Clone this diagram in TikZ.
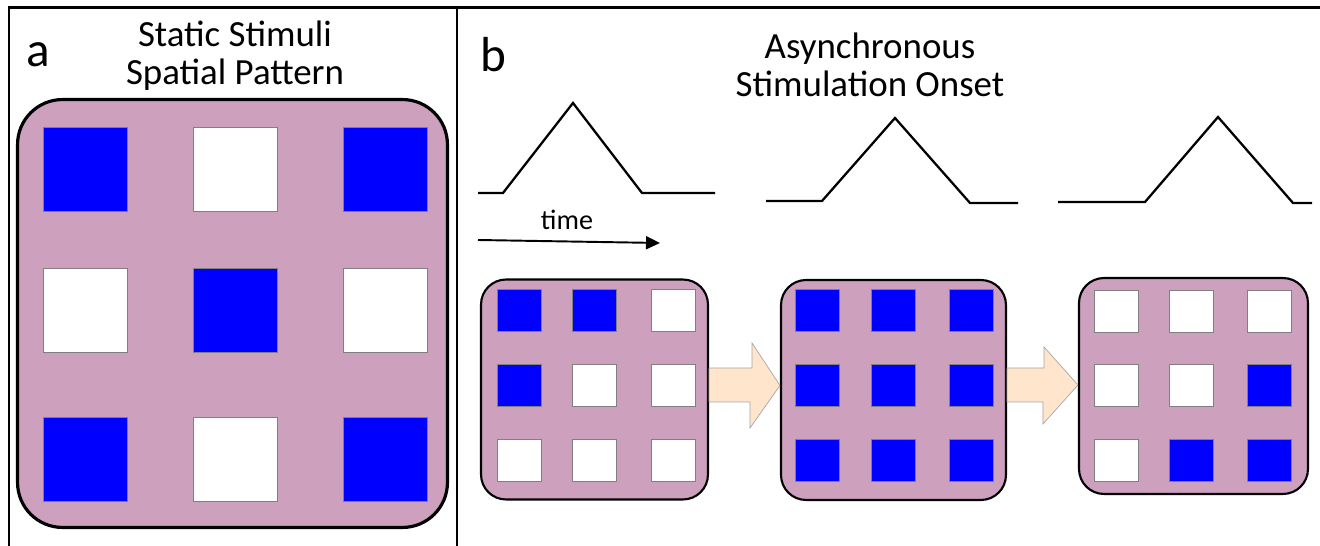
\documentclass[tikz,border=0pt]{standalone}
\usepackage{fontspec}
\setmainfont{Carlito}
\usetikzlibrary{arrows.meta,calc}
\definecolor{panelpink}{RGB}{205,160,190}
\definecolor{stimblue}{RGB}{0,0,255}
\definecolor{peach}{RGB}{255,229,204}
\begin{document}
\begin{tikzpicture}[x=0.02cm,y=-0.02cm,
  bigpanel/.style={draw,line width=1.8pt,fill=panelpink,rounded corners=0.9cm,minimum width=8.6cm,minimum height=8.56cm,inner sep=0pt},
  smallpanel/.style={draw,line width=1.2pt,fill=panelpink,rounded corners=0.5cm,minimum width=4.5cm,minimum height=4.4cm,inner sep=0pt},
  bigsq/.style={draw=gray,line width=0.5pt,minimum size=1.68cm,inner sep=0pt},
  smallsq/.style={draw=gray,line width=0.5pt,minimum width=0.88cm,minimum height=0.84cm,inner sep=0pt},
  on/.style={fill=stimblue},
  off/.style={fill=white},
  blockarrow/.style={draw=gray!70,line width=0.4pt,fill=peach,line join=miter},
  title/.style={align=center,font=\fontsize{21}{21.5}\selectfont},
  letter/.style={font=\fontsize{28}{30}\selectfont},
  wave/.style={line width=1.3pt}]
\useasboundingbox (0,0) rectangle (1320,546);
\draw[line width=1.7pt] (9,546) -- (9,8) -- (1320,8);
\draw[line width=1.7pt] (457,8) -- (457,546);
\node[letter] (la) at (38,55) {a};
\node[title] (ta) at (235,56) {Static Stimuli\\Spatial Pattern};
\node[bigpanel] (pa) at (232.5,313.5) {};
\node[bigsq,on] (pa11) at (85,169) {};
\node[bigsq,off] (pa12) at (235,169) {};
\node[bigsq,on] (pa13) at (385,169) {};
\node[bigsq,off] (pa21) at (85,310) {};
\node[bigsq,on] (pa22) at (235,310) {};
\node[bigsq,off] (pa23) at (385,310) {};
\node[bigsq,on] (pa31) at (85,459) {};
\node[bigsq,off] (pa32) at (235,459) {};
\node[bigsq,on] (pa33) at (385,459) {};
\node[letter] (lb) at (493,55) {b};
\node[title] (tb) at (870,65) {Asynchronous\\Stimulation Onset};
\draw[wave] (478,193) -- (503,193) -- (573,103) -- (642,193) -- (715,193);
\draw[wave] (766,201) -- (822,201) -- (895,118) -- (970,203) -- (1018,203);
\draw[wave] (1058,202) -- (1145,202) -- (1218,117) -- (1293,203) -- (1312,203);
\node[font=\fontsize{16}{18}\selectfont] (tm) at (567,220) {time};
\coordinate (t0) at (478,240);
\coordinate (t1) at (660,243);
\draw[line width=1.1pt,-{Triangle[length=0.28cm,width=0.26cm]}] (t0) -- (t1);
\node[smallpanel,minimum width=4.54cm] (pb1) at (594.5,389.5) {};
\node[smallpanel] (pb2) at (893.5,390) {};
\node[smallpanel,minimum width=4.58cm,minimum height=4.32cm] (pb3) at (1193.5,386) {};
\node[smallsq,on] (pb1s11) at (519,310) {};
\node[smallsq,on] (pb1s12) at (594,310) {};
\node[smallsq,off] (pb1s13) at (673,310) {};
\node[smallsq,on] (pb1s21) at (519,385) {};
\node[smallsq,off] (pb1s22) at (594,385) {};
\node[smallsq,off] (pb1s23) at (673,385) {};
\node[smallsq,off] (pb1s31) at (519,460) {};
\node[smallsq,off] (pb1s32) at (594,460) {};
\node[smallsq,off] (pb1s33) at (673,460) {};
\node[smallsq,on] (pb2s11) at (817,310) {};
\node[smallsq,on] (pb2s12) at (893,310) {};
\node[smallsq,on] (pb2s13) at (971,310) {};
\node[smallsq,on] (pb2s21) at (817,385) {};
\node[smallsq,on] (pb2s22) at (893,385) {};
\node[smallsq,on] (pb2s23) at (971,385) {};
\node[smallsq,on] (pb2s31) at (817,460) {};
\node[smallsq,on] (pb2s32) at (893,460) {};
\node[smallsq,on] (pb2s33) at (971,460) {};
\node[smallsq,off] (pb3s11) at (1116,311) {};
\node[smallsq,off] (pb3s12) at (1191,311) {};
\node[smallsq,off] (pb3s13) at (1269.5,311) {};
\node[smallsq,off] (pb3s21) at (1116,385.5) {};
\node[smallsq,off] (pb3s22) at (1191,385.5) {};
\node[smallsq,on] (pb3s23) at (1269.5,385.5) {};
\node[smallsq,off] (pb3s31) at (1116,460.5) {};
\node[smallsq,on] (pb3s32) at (1191,460.5) {};
\node[smallsq,on] (pb3s33) at (1269.5,460.5) {};
\draw[blockarrow] ($(pb1.east)+(0,-21.5)$) -- ++(43,0) -- ++(0,-25) -- ($(pb2.west)+(0,-4.5)$) -- ++(-30,42.5) -- ++(0,-26) -- ($(pb1.east)+(0,12.5)$) -- cycle;
\draw[blockarrow] ($(pb2.east)+(0,-22)$) -- ++(37,0) -- ++(0,-21) -- ($(pb3.west)+(0,-1)$) -- ++(-35,39) -- ++(0,-22) -- ($(pb2.east)+(0,12)$) -- cycle;
\end{tikzpicture}
\end{document}
